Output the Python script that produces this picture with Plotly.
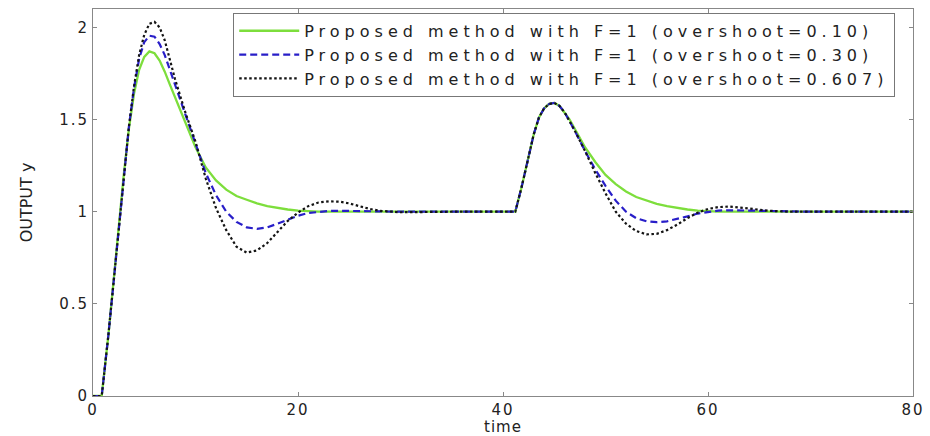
import plotly.graph_objects as go

time = [0, 0.85, 1.5, 2, 2.5, 3, 3.5, 4, 4.5, 5,
        5.5, 6, 6.5, 7, 7.5, 8, 9, 10, 11, 12,
        13, 14, 15, 16, 17, 18, 19, 20, 21, 22,
        23, 24, 25, 26, 27, 28, 30, 35, 41.2, 41.8,
        42.5, 43, 43.5, 44, 44.5, 45, 45.5, 46, 46.5, 47,
        48, 49, 50, 51, 52, 53, 54, 55, 56, 57,
        58, 59, 60, 61, 62, 63, 64, 65, 66, 68,
        70, 80]

y_os010 = [0, 0, 0.33, 0.62, 0.92, 1.2, 1.45, 1.64, 1.77, 1.84,
           1.87, 1.86, 1.82, 1.76, 1.69, 1.62, 1.48, 1.35, 1.24, 1.17,
           1.12, 1.085, 1.065, 1.045, 1.03, 1.02, 1.012, 1.006, 1.002, 1.0,
           1.0, 1.0, 1.0, 1.0, 1.0, 1.0, 1.0, 1.0, 1.0, 1.13,
           1.3, 1.42, 1.51, 1.56, 1.585, 1.59, 1.575, 1.54, 1.5, 1.45,
           1.35, 1.27, 1.2, 1.15, 1.11, 1.08, 1.06, 1.043, 1.03, 1.02,
           1.012, 1.006, 1.002, 1.0, 1.0, 1.0, 1.0, 1.0, 1.0, 1.0,
           1.0, 1.0]

y_os030 = [0, 0, 0.33, 0.62, 0.92, 1.2, 1.46, 1.67, 1.83, 1.92,
           1.955, 1.95, 1.91, 1.85, 1.77, 1.68, 1.52, 1.37, 1.21, 1.09,
           1.0, 0.945, 0.915, 0.907, 0.915, 0.935, 0.958, 0.978, 0.993, 1.0,
           1.004, 1.005, 1.004, 1.002, 1.0, 1.0, 1.0, 1.0, 1.0, 1.13,
           1.3, 1.42, 1.51, 1.56, 1.585, 1.59, 1.575, 1.54, 1.49, 1.44,
           1.33, 1.23, 1.14, 1.06, 1.0, 0.965, 0.948, 0.943, 0.948, 0.96,
           0.975, 0.99, 1.0, 1.006, 1.008, 1.007, 1.005, 1.002, 1.0, 1.0,
           1.0, 1.0]

y_os0607 = [0, 0, 0.33, 0.62, 0.92, 1.2, 1.46, 1.68, 1.85, 1.96,
            2.02, 2.03, 2.0, 1.93, 1.83, 1.72, 1.54, 1.38, 1.18, 1.02,
            0.9, 0.81, 0.778, 0.79, 0.83, 0.89, 0.95, 0.995, 1.03, 1.05,
            1.056, 1.055, 1.045, 1.03, 1.015, 1.005, 0.997, 1.0, 1.0, 1.13,
            1.3, 1.42, 1.51, 1.56, 1.585, 1.59, 1.575, 1.54, 1.49, 1.44,
            1.33, 1.21, 1.1, 1.0, 0.935, 0.895, 0.877, 0.88, 0.9, 0.93,
            0.965, 0.995, 1.015, 1.025, 1.028, 1.025, 1.018, 1.01, 1.005, 1.0,
            1.0, 1.0]

names = ["Proposed method with F=1 (overshoot=0.10)",
         "Proposed method with F=1 (overshoot=0.30)",
         "Proposed method with F=1 (overshoot=0.607)"]

x_ticks = [0, 20, 40, 60, 80]
y_ticks = [0, 0.5, 1, 1.5, 2]
y_ticklabels = ["0", "0.5", "1", "1.5", "2"]

FONT = "DejaVu Sans"
TXT = "#222222"


def spaced(s, px):
    return '<span style="letter-spacing:%spx">%s</span>' % (px, s)


fig = go.Figure()
fig.add_trace(go.Scatter(x=time, y=y_os010, mode="lines", name=spaced(names[0], 5),
                         line=dict(color="rgb(125,222,60)", width=2.3)))
fig.add_trace(go.Scatter(x=time, y=y_os030, mode="lines", name=spaced(names[1], 5),
                         line=dict(color="rgb(40,30,200)", width=2.2, dash="7px,4px")))
fig.add_trace(go.Scatter(x=time, y=y_os0607, mode="lines", name=spaced(names[2], 5),
                         line=dict(color="rgb(20,20,20)", width=2.2, dash="2.5px,2.5px")))

axis_common = dict(showline=True, linecolor="#888888", linewidth=1, mirror="ticks",
                   ticks="inside", ticklen=4, tickcolor="#888888",
                   showgrid=False, zeroline=False,
                   tickfont=dict(family=FONT, size=15, color=TXT))

fig.update_xaxes(range=[0, 80], tickvals=x_ticks,
                 ticktext=[spaced(str(v), 2) for v in x_ticks],
                 automargin=False, **axis_common)
fig.update_yaxes(range=[0, 2.1], tickvals=y_ticks,
                 ticktext=[spaced(v, 2) for v in y_ticklabels],
                 title=dict(text="OUTPUT y", font=dict(family=FONT, size=16, color=TXT),
                            standoff=22),
                 automargin=False, **axis_common)

fig.add_annotation(text=spaced("time", 1), xref="paper", yref="paper",
                   x=0.5, y=-(427 - 396) / 387, xanchor="center", yanchor="middle",
                   showarrow=False, font=dict(family=FONT, size=15, color=TXT))

fig.update_layout(
    width=930, height=436,
    margin=dict(l=93, r=17, t=9, b=40),
    paper_bgcolor="white", plot_bgcolor="white",
    showlegend=True,
    legend=dict(x=0.171, y=0.99, xanchor="left", yanchor="top",
                bgcolor="white", bordercolor="#777777", borderwidth=1,
                font=dict(family=FONT, size=16, color=TXT),
                itemwidth=60, tracegroupgap=0),
)

fig.write_html("out.html")
